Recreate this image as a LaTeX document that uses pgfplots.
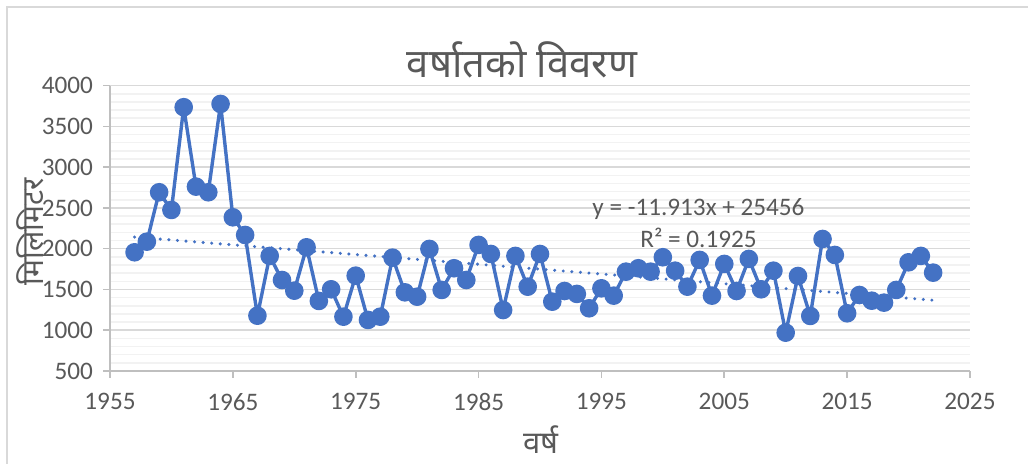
\documentclass[border=0pt]{standalone}
\usepackage{pgfplots}
\pgfplotsset{compat=1.18}
\usepackage{fontspec}
\setmainfont{Carlito}
\newfontfamily\deva[Script=Devanagari]{Noto Sans}
\definecolor{ln}{HTML}{4472C4}
\definecolor{txt}{HTML}{595959}
\definecolor{grmaj}{HTML}{D9D9D9}
\definecolor{grmin}{HTML}{F2F2F2}
\definecolor{axl}{HTML}{BFBFBF}
\begin{document}
\begin{tikzpicture}
\useasboundingbox (0,0) rectangle (514pt,232pt);
\draw[grmaj, line width=0.8pt] (3.5pt,-5pt) -- (3.5pt,228.5pt) -- (520pt,228.5pt);
\begin{axis}[at={(55pt,46.5pt)}, anchor=south west, scale only axis,
  width=430pt, height=142.7pt,
  xmin=1955, xmax=2025, ymin=500, ymax=4000,
  xtick={1955,1965,...,2025}, ytick={500,1000,...,4000}, minor y tick num=4,
  ymajorgrids, yminorgrids,
  major grid style={grmaj, line width=0.75pt},
  minor grid style={grmin, line width=0.75pt},
  axis x line*=bottom, axis y line*=left,
  axis line style={axl, line width=0.8pt, -},
  tick align=outside, major tick length=3.5pt, minor tick length=0pt,
  tick style={axl, line width=0.8pt},
  ticklabel style={font=\fontsize{12.6}{14}\selectfont, text=txt},
  xticklabel style={yshift=-4pt},
  yticklabel style={xshift=-1.5pt},
  /pgf/number format/1000 sep={},
  /pgf/number format/assume math mode=true,
  clip=false,
]
\addplot[ln, line width=1.7pt, line cap=round, dash pattern=on 0pt off 4.3pt]
  coordinates {(1957,2142.3) (2022,1367.9)};
\addplot[ln, line width=1.7pt, line join=round, mark=*, mark size=3.8pt, mark options={fill=ln, draw=ln, solid}]
  coordinates {
(1957,1956) (1958,2086) (1959,2692) (1960,2475) (1961,3735) (1962,2761)
(1963,2692) (1964,3775) (1965,2385) (1966,2168) (1967,1178) (1968,1911)
(1969,1616) (1970,1485) (1971,2017) (1972,1359) (1973,1502) (1974,1166)
(1975,1669) (1976,1126) (1977,1166) (1978,1890) (1979,1465) (1980,1411)
(1981,1997) (1982,1494) (1983,1760) (1984,1616) (1985,2046) (1986,1935)
(1987,1248) (1988,1911) (1989,1534) (1990,1935) (1991,1350) (1992,1481)
(1993,1445) (1994,1269) (1995,1514) (1996,1424) (1997,1718) (1998,1760)
(1999,1718) (2000,1895) (2001,1730) (2002,1534) (2003,1862) (2004,1424)
(2005,1813) (2006,1481) (2007,1874) (2008,1502) (2009,1730) (2010,970)
(2011,1665) (2012,1175) (2013,2119) (2014,1923) (2015,1208) (2016,1432)
(2017,1362) (2018,1338) (2019,1494) (2020,1833) (2021,1911) (2022,1706)
  };
\node[font=\fontsize{12.6}{14}\selectfont, text=txt] at (axis cs:2002.9,2487) {y = -11.913x + 25456};
\node[font=\fontsize{12.6}{14}\selectfont, text=txt] at (axis cs:2002.9,2132) {R² = 0.1925};
\end{axis}
\node[text=txt, font=\deva\fontsize{20}{24}\selectfont] at (261pt,202pt) {वर्षातको विवरण};
\node[text=txt, font=\deva\fontsize{15}{18}\selectfont, rotate=90] at (15pt,116pt) {मिलिमिटर};
\node[text=txt, font=\deva\fontsize{15.5}{18}\selectfont] at (270.5pt,12pt) {वर्ष};
\end{tikzpicture}
\end{document}
